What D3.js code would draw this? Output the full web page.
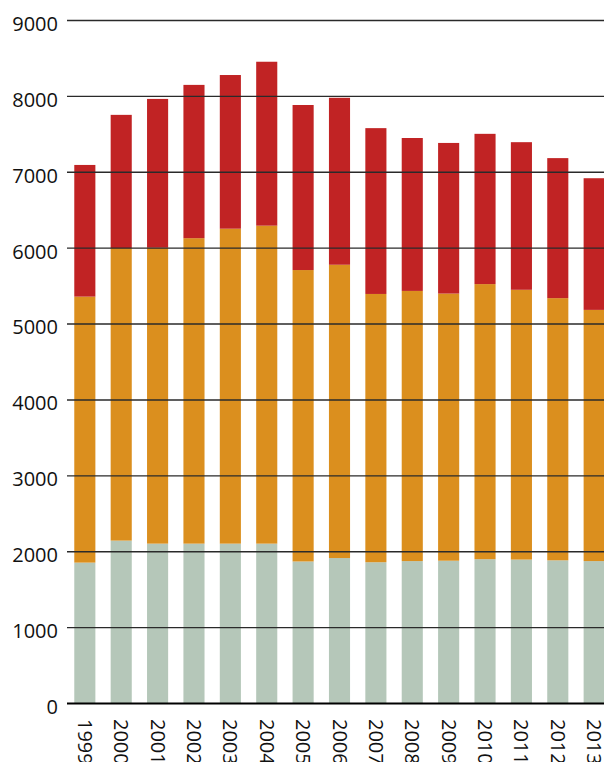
<!DOCTYPE html>
<html>
<head>
<meta charset="utf-8">
<script src="https://cdn.jsdelivr.net/npm/d3@7"></script>
<style>
  body { margin: 0; background: #fff; }
  .chart text { font-family: "Open Sans", sans-serif; fill: #111; }
</style>
</head>
<body>
<div class="chart"></div>
<script>
// Data (segment sizes, bottom to top)
let years = ["1999", "2000", "2001", "2002", "2003", "2004", "2005", "2006",
             "2007", "2008", "2009", "2010", "2011", "2012", "2013"];
let bottomSeg = [1850, 2140, 2100, 2100, 2100, 2100, 1865, 1910, 1855, 1870, 1875, 1895, 1890, 1880, 1870];
let middleSeg = [3505, 3855, 3900, 4025, 4150, 4190, 3840, 3865, 3535, 3560, 3520, 3625, 3555, 3455, 3310];
let topSeg    = [1735, 1755, 1960, 2020, 2025, 2160, 2175, 2200, 2185, 2015, 1985, 1980, 1945, 1845, 1735];
let yTicks = [0, 1000, 2000, 3000, 4000, 5000, 6000, 7000, 8000, 9000];
let seriesKeys = ["bottom", "middle", "top"];
let colors = ["#b5c7b9", "#db8f1e", "#c12324"];

let w = 604
let h = 762

let svg = d3.select(".chart")
            .append("svg")
            .attr("width", w)
            .attr("height", h);

// table for d3.stack
let table = years.map(function(y, i) {
  return { year: y, bottom: bottomSeg[i], middle: middleSeg[i], top: topSeg[i] };
});
let stacked = d3.stack().keys(seriesKeys)(table);

let x = d3.scaleBand()
  .domain(years)
  .range([67, 612])
  .paddingInner(0.42)
  .paddingOuter(0.2);

let y = d3.scaleLinear()
  .domain([0, 9000])
  .range([703, 20]);

// bars
svg.append("g").selectAll("g")
  .data(stacked)
  .enter()
  .append("g")
  .attr("fill", function(d, i) { return colors[i]; })
  .selectAll("rect")
  .data(function(d) { return d; })
  .enter()
  .append("rect")
  .attr("x", function(d) { return x(d.data.year); })
  .attr("width", x.bandwidth())
  .attr("y", function(d) { return y(d[1]); })
  .attr("height", function(d) { return y(d[0]) - y(d[1]); });

// grid lines on top of the bars, labels on the left
let yAxis = d3.axisLeft(y)
  .tickValues(yTicks)
  .tickSize(-(w - 67))
  .tickFormat(d3.format("d"));

let gy = svg.append("g")
  .attr("transform", "translate(67,0)")
  .call(yAxis);
gy.select(".domain").remove();
gy.selectAll(".tick line")
  .attr("stroke", "#2a2a2a")
  .attr("stroke-width", 1.4);
gy.selectAll(".tick")
  .filter(function(d) { return d === 0; })
  .select("line")
  .attr("stroke", "#000")
  .attr("stroke-width", 1.8);
gy.selectAll(".tick text")
  .attr("x", -9)
  .attr("dy", "0.52em")
  .style("font-size", "20px")
  .style("fill", "#111");

// year labels, turned to read downwards
let xAxis = d3.axisBottom(x).tickSize(0);
let gx = svg.append("g")
  .attr("transform", "translate(0,703)")
  .call(xAxis);
gx.select(".domain").remove();
gx.selectAll(".tick text")
  .attr("transform", "rotate(90)")
  .attr("x", 16)
  .attr("y", 0)
  .attr("dy", "0.35em")
  .attr("text-anchor", "start")
  .style("font-size", "20px")
  .style("fill", "#111");
</script>
</body>
</html>
